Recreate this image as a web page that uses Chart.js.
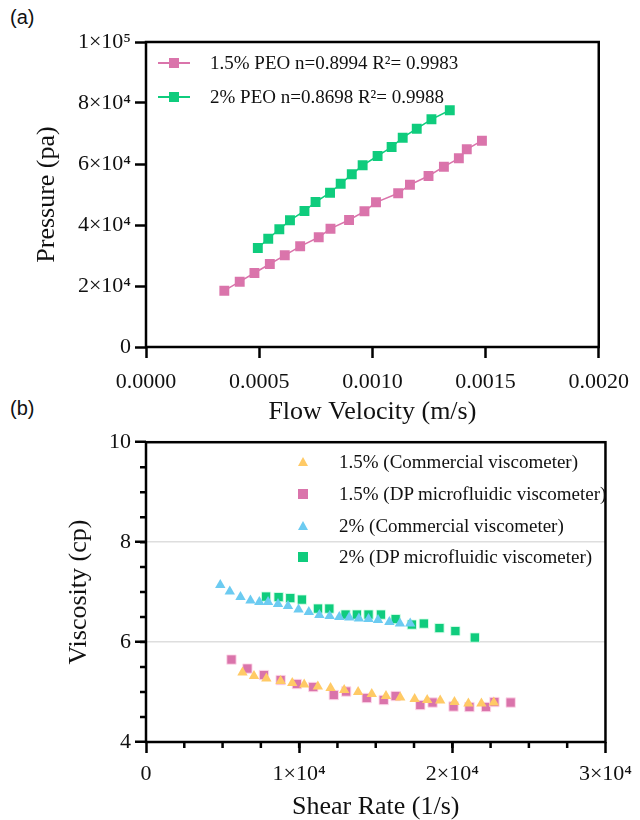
<!DOCTYPE html>
<html>
<head>
<meta charset="utf-8">
<script src="https://cdn.jsdelivr.net/npm/chart.js@4.4.1/dist/chart.umd.min.js"></script>
<style>
  html, body { margin: 0; padding: 0; background: #fff; }
  #page { position: relative; width: 640px; height: 820px; overflow: hidden; }
  canvas { position: absolute; left: 0; }
  .panel { position: absolute; font-family: 'Liberation Sans', Arial, sans-serif; font-size: 20px; color: #111; }
  .legend { position: absolute; font-family: 'Liberation Serif', 'Times New Roman', serif; font-size: 19px; color: #111; }
  .row { position: absolute; left: 0; height: 24px; line-height: 24px; white-space: nowrap; }
  .row .txt { position: absolute; top: 0; }
  .mk { position: absolute; }
</style>
</head>
<body>
<div id="page">
  <div class="panel" style="left:10px; top:6px;">(a)</div>
  <div class="panel" style="left:10px; top:397px;">(b)</div>
  <canvas id="chPressure" width="640" height="428" style="top:0"></canvas>
  <canvas id="chViscosity" width="640" height="398" style="top:425px"></canvas>
  <div id="legA" class="legend" style="left:158px; top:51px;"></div>
  <div id="legB" class="legend" style="left:298px; top:450px;"></div>
</div>
<script>
// (a) pressure vs flow velocity
const velocity15 = [0.000346, 0.000414, 0.000479, 0.000547, 0.000613, 0.000681, 0.000763, 0.000815, 0.000897,
                    0.000965, 0.001016, 0.001114, 0.001166, 0.001248, 0.001316, 0.001382, 0.001417, 0.001484];
const pressure15 = [18460, 21410, 24260, 27210, 30070, 33020, 35970, 38790, 41640,
                    44490, 47440, 50390, 53210, 56070, 59120, 61870, 64820, 67640];
const velocity2 = [0.000494, 0.000540, 0.000589, 0.000636, 0.000700, 0.000749, 0.000813, 0.000860,
                   0.000909, 0.000957, 0.001023, 0.001085, 0.001134, 0.001196, 0.001261, 0.001342];
const pressure2 = [32460, 35510, 38590, 41540, 44590, 47540, 50590, 53540,
                   56620, 59570, 62620, 65570, 68620, 71570, 74660, 77610];
const legendA = ['1.5% PEO n=0.8994 R²= 0.9983', '2% PEO n=0.8698 R²= 0.9988'];
const velocityTicks = ['0.0000', '0.0005', '0.0010', '0.0015', '0.0020'];
const pressureTicks = ['0', '2×10⁴', '4×10⁴', '6×10⁴', '8×10⁴', '1×10⁵'];

// (b) viscosity vs shear rate
const shearComm15 = [6300, 7050, 7860, 8790, 9550, 10330, 11220, 12050, 12940, 13850,
                     14740, 15670, 16600, 17540, 18360, 19210, 20140, 21050, 21900, 22710];
const viscComm15 = [5.39, 5.32, 5.27, 5.22, 5.18, 5.15, 5.11, 5.08, 5.04, 5.00,
                    4.96, 4.92, 4.89, 4.86, 4.84, 4.83, 4.80, 4.77, 4.77, 4.79];
const shearDP15 = [5580, 6620, 7700, 8790, 9850, 10920, 12260, 13070, 14410,
                   15520, 16300, 17910, 18710, 20080, 21120, 22200, 22750, 23810];
const viscDP15 = [5.65, 5.47, 5.34, 5.24, 5.16, 5.10, 4.94, 5.01, 4.88,
                  4.84, 4.92, 4.74, 4.79, 4.71, 4.70, 4.70, 4.80, 4.79];
const shearComm2 = [4850, 5470, 6170, 6820, 7400, 7970, 8620, 9270, 9960, 10630,
                    11320, 11990, 12620, 13270, 13900, 14530, 15150, 15890, 16580, 17250];
const viscComm2 = [7.14, 7.01, 6.90, 6.83, 6.80, 6.80, 6.76, 6.72, 6.65, 6.60,
                   6.54, 6.52, 6.50, 6.49, 6.47, 6.46, 6.44, 6.40, 6.37, 6.37];
const shearDP2 = [7840, 8660, 9420, 10180, 11230, 11970, 13030, 13770,
                  14530, 15340, 16300, 17360, 18140, 19160, 20200, 21470];
const viscDP2 = [6.91, 6.90, 6.88, 6.85, 6.67, 6.67, 6.55, 6.55,
                 6.55, 6.55, 6.46, 6.35, 6.37, 6.28, 6.22, 6.09];
const legendB = ['1.5% (Commercial viscometer)', '1.5% (DP microfluidic viscometer)',
                 '2% (Commercial viscometer)', '2% (DP microfluidic viscometer)'];
const shearTicks = ['0', '1×10⁴', '2×10⁴', '3×10⁴'];
const viscTicks = ['4', '6', '8', '10'];

const PINK = '#da74ab', GREEN = '#0fcc7d', BLUE = '#6ccbf1', YELLOW = '#ffca66';
const SERIF = "'Liberation Serif', 'Times New Roman', serif";
const TICK_FONT = { family: SERIF, size: 22 };
const TITLE_FONT = { family: SERIF, size: 26 };

function pts(xs, ys) { return xs.map((x, i) => ({ x: x, y: ys[i] })); }

// box around plot area + optional minor ticks
const framePlugin = {
    id: 'frame',
    afterDraw(chart, args, opts) {
        const ctx = chart.ctx, a = chart.chartArea;
        ctx.save();
        ctx.strokeStyle = '#000';
        ctx.lineWidth = 2.5;
        if (opts.minor) {
            const sx = chart.scales.x, sy = chart.scales.y;
            const mx = opts.minor.x, my = opts.minor.y;
            ctx.beginPath();
            for (let v = sx.min + mx; v < sx.max; v += mx) {
                const px = sx.getPixelForValue(v);
                ctx.moveTo(px, a.bottom); ctx.lineTo(px, a.bottom + 6);
            }
            for (let v = sy.min + my; v < sy.max; v += my) {
                const py = sy.getPixelForValue(v);
                ctx.moveTo(a.left, py); ctx.lineTo(a.left - 6, py);
            }
            ctx.stroke();
        }
        ctx.strokeRect(a.left, a.top, a.right - a.left, a.bottom - a.top);
        ctx.restore();
    }
};

function axis(opts) {
    return Object.assign({
        type: 'linear',
        border: { display: false },
        grid: { drawOnChartArea: false, tickLength: 11, tickWidth: 2.5, tickColor: '#000' }
    }, opts);
}

// ---- chart (a)
new Chart(document.getElementById('chPressure'), {
    type: 'scatter',
    data: {
        datasets: [
            { label: legendA[0], data: pts(velocity15, pressure15), showLine: true,
              borderColor: PINK, backgroundColor: PINK, borderWidth: 1.5,
              pointStyle: 'rect', pointRadius: 7, pointBorderWidth: 0 },
            { label: legendA[1], data: pts(velocity2, pressure2), showLine: true,
              borderColor: GREEN, backgroundColor: GREEN, borderWidth: 1.5,
              pointStyle: 'rect', pointRadius: 7, pointBorderWidth: 0 }
        ]
    },
    options: {
        responsive: false, animation: false,
        layout: { padding: { top: 42, right: 33, left: 0, bottom: 0 } },
        plugins: { legend: { display: false }, tooltip: { enabled: false }, frame: {} },
        scales: {
            x: axis({
                min: 0, max: 0.002,
                afterFit: s => { s.height = 81; },
                afterBuildTicks: s => { s.ticks = velocityTicks.map((t, i) => ({ value: i * 0.0005 })); },
                ticks: { color: '#111', font: TICK_FONT, padding: 11, autoSkip: false, maxRotation: 0,
                         callback: (v, i) => velocityTicks[i] },
                title: { display: true, text: 'Flow Velocity (m/s)', color: '#111', font: TITLE_FONT,
                         padding: { top: 0, bottom: 0 } }
            }),
            y: axis({
                min: 0, max: 100000,
                afterFit: s => { s.width = 146; },
                afterBuildTicks: s => { s.ticks = pressureTicks.map((t, i) => ({ value: i * 20000 })); },
                ticks: { color: '#111', font: TICK_FONT, padding: 4, autoSkip: false,
                         callback: (v, i) => pressureTicks[i] },
                title: { display: true, text: 'Pressure (pa)', color: '#111', font: TITLE_FONT,
                         padding: { top: 32, bottom: 0 } }
            })
        }
    },
    plugins: [framePlugin]
});

// ---- chart (b)
new Chart(document.getElementById('chViscosity'), {
    type: 'scatter',
    data: {
        datasets: [
            { label: legendB[0], data: pts(shearComm15, viscComm15), backgroundColor: YELLOW,
              pointStyle: 'triangle', pointRadius: 6, pointBorderWidth: 0 },
            { label: legendB[1], data: pts(shearDP15, viscDP15), backgroundColor: PINK,
              borderColor: 'rgba(255,220,235,0.9)', pointStyle: 'rect', pointRadius: 6.6, pointBorderWidth: 1 },
            { label: legendB[2], data: pts(shearComm2, viscComm2), backgroundColor: BLUE,
              pointStyle: 'triangle', pointRadius: 6, pointBorderWidth: 0 },
            { label: legendB[3], data: pts(shearDP2, viscDP2), backgroundColor: GREEN,
              borderColor: 'rgba(220,255,235,0.9)', pointStyle: 'rect', pointRadius: 6.6, pointBorderWidth: 1 }
        ]
    },
    options: {
        responsive: false, animation: false,
        layout: { padding: { top: 11, right: 33, left: 0, bottom: 0 } },
        plugins: { legend: { display: false }, tooltip: { enabled: false }, frame: { minor: { x: 2500, y: 0.5 } } },
        scales: {
            x: axis({
                min: 0, max: 30000,
                afterFit: s => { s.height = 81; },
                afterBuildTicks: s => { s.ticks = shearTicks.map((t, i) => ({ value: i * 10000 })); },
                ticks: { color: '#111', font: TICK_FONT, padding: 8, autoSkip: false, maxRotation: 0,
                         callback: (v, i) => shearTicks[i] },
                title: { display: true, text: 'Shear Rate (1/s)', color: '#111', font: TITLE_FONT,
                         padding: { top: 0, bottom: 0 } }
            }),
            y: axis({
                min: 4, max: 10,
                afterFit: s => { s.width = 146; },
                afterBuildTicks: s => { s.ticks = viscTicks.map((t, i) => ({ value: 4 + i * 2 })); },
                grid: { drawOnChartArea: true, tickLength: 11, tickWidth: 2.5, tickColor: '#000', lineWidth: 1.5,
                        color: c => (c.tick && (c.tick.value === 6 || c.tick.value === 8)) ? '#dedede' : 'rgba(0,0,0,0)' },
                ticks: { color: '#111', font: TICK_FONT, padding: 4, autoSkip: false,
                         callback: (v, i) => viscTicks[i] },
                title: { display: true, text: 'Viscosity (cp)', color: '#111', font: TITLE_FONT,
                         padding: { top: 64, bottom: 0 } }
            })
        }
    },
    plugins: [framePlugin]
});

// ---- HTML legends
function legendRow(parent, top, label, markerHtml, textLeft) {
    const row = document.createElement('div');
    row.className = 'row';
    row.style.top = top + 'px';
    row.innerHTML = markerHtml + '<span class="txt" style="left:' + textLeft + 'px">' + label + '</span>';
    parent.appendChild(row);
}
const legA = document.getElementById('legA');
[PINK, GREEN].forEach((c, i) => {
    const mk = '<span class="mk" style="left:0; top:11px; width:32px; height:1.5px; background:' + c + '"></span>' +
               '<span class="mk" style="left:11px; top:7px; width:10px; height:10px; background:' + c + '"></span>';
    legendRow(legA, i * 34, legendA[i], mk, 52);
});
const legB = document.getElementById('legB');
[YELLOW, PINK, BLUE, GREEN].forEach((c, i) => {
    const tri = i % 2 === 0;
    const mk = tri
        ? '<span class="mk" style="left:0; top:7px; width:0; height:0; border-left:5px solid transparent; border-right:5px solid transparent; border-bottom:9px solid ' + c + '"></span>'
        : '<span class="mk" style="left:0; top:7px; width:10px; height:10px; background:' + c + '"></span>';
    legendRow(legB, [0, 32, 64, 95][i], legendB[i], mk, 41);
});
</script>
</body>
</html>
